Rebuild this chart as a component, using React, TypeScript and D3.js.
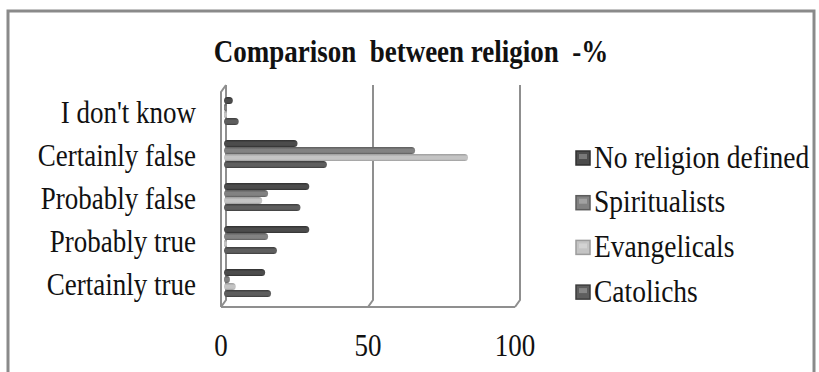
import React from "react";
import * as d3 from "d3";

const categories = ["I don't know", "Certainly false", "Probably false", "Probably true", "Certainly true"];
const seriesNames = ["No religion defined", "Spiritualists", "Evangelicals", "Catolichs"];
const noReligion = [3, 25, 29, 29, 14];
const spiritualists = [1, 65, 15, 15, 2];
const evangelicals = [1, 83, 13, 1, 4];
const catolichs = [5, 35, 26, 18, 16];
const xTicks = [0, 50, 100];
const title = "Comparison  between religion  -%";

const seriesValues = [noReligion, spiritualists, evangelicals, catolichs];
const baseColors = ["#4c4c4c", "#828282", "#c4c4c4", "#5e5e5e"];
const edgeColors = ["#303030", "#5c5c5c", "#9c9c9c", "#3c3c3c"];

const W = 819;
const H = 372;
const FONT = "Liberation Serif, DejaVu Serif, Times New Roman, serif";
const STRETCH = 1.17;

function T({ x, y, anchor = "start", size = 27, bold = false, children }: any) {
  return (
    <g transform={`translate(${x},${y}) scale(1,${STRETCH})`}>
      <text
        x={0}
        y={0}
        textAnchor={anchor}
        fontSize={size}
        fontWeight={bold ? "bold" : "normal"}
        fill="#111"
        style={{ fontFamily: FONT, whiteSpace: "pre" }}
      >
        {children}
      </text>
    </g>
  );
}

export default function App() {
  const x = d3.scaleLinear().domain([0, 100]).range([224, 518]);
  const y = d3.scaleBand<string>().domain(categories).range([89.5, 304.5]);
  const bw = y.bandwidth();
  const inner = d3.scaleBand<string>().domain(seriesNames).range([bw / 2 - 14, bw / 2 + 14]).padding(0);
  const depthX = 5;
  const depthY = 7;
  const wallTop = 85;
  const wallBottom = 300;
  const gx = (v: number) => x(v) + 2;

  return (
    <svg width={W} height={H} style={{ position: "absolute", left: 0, top: 0, background: "#fff" }}>
      <defs>
        {seriesNames.map((s, i) => (
          <linearGradient key={s} id={`g${i}`} x1="0" y1="0" x2="0" y2="1">
            <stop offset="0%" stopColor={edgeColors[i]} />
            <stop offset="35%" stopColor={baseColors[i]} />
            <stop offset="75%" stopColor={baseColors[i]} />
            <stop offset="100%" stopColor={edgeColors[i]} />
          </linearGradient>
        ))}
      </defs>
      <rect x={8} y={11} width={806} height={420} fill="#fff" stroke="#8a8a8a" strokeWidth={3} />
      <T x={411} y={62} anchor="middle" bold size={27}>
        {title}
      </T>

      {/* walls & gridlines */}
      <g fill="none" stroke="#8f8f8f" strokeWidth={2}>
        {xTicks.map((t) => (
          <path key={t} d={`M${gx(t)},${wallTop} L${gx(t)},${wallBottom} L${gx(t) - depthX},${wallBottom + depthY}`} />
        ))}
        <path d={`M${gx(0) - depthX},${wallBottom + depthY} L${gx(0) - depthX},${wallTop + depthY} L${gx(0)},${wallTop}`} />
        <path d={`M${gx(0) - depthX},${wallBottom + depthY} L${gx(100) - depthX},${wallBottom + depthY}`} />
      </g>

      {/* bars */}
      {categories.map((c, ci) => (
        <g key={c} transform={`translate(0,${y(c)})`}>
          {seriesNames.map((s, si) => {
            const v = seriesValues[si][ci];
            const h = inner.bandwidth();
            const w = Math.max(x(v) - x(0), 2);
            return (
              <rect
                key={s}
                x={x(0)}
                y={inner(s)}
                width={w}
                height={h}
                rx={Math.min(h / 2, w / 2)}
                fill={`url(#g${si})`}
              />
            );
          })}
        </g>
      ))}

      {/* category labels */}
      {categories.map((c) => (
        <T key={c} x={196} y={(y(c) as number) + bw / 2 + 12} anchor="end" size={27}>
          {c}
        </T>
      ))}

      {/* x tick labels */}
      {xTicks.map((t) => (
        <T key={t} x={gx(t) - depthX} y={356} anchor="middle" size={27}>
          {String(t)}
        </T>
      ))}

      {/* legend */}
      {seriesNames.map((s, i) => {
        const cy = 158 + i * 44.7;
        return (
          <g key={s}>
            <rect x={576} y={cy - 7} width={14} height={14} fill={baseColors[i]} stroke={edgeColors[i]} strokeWidth={1.5} />
            <rect x={579} y={cy - 4} width={8} height={5} fill="#fff" opacity={0.25} />
            <T x={594} y={cy + 9.5} size={27.5}>
              {s}
            </T>
          </g>
        );
      })}
    </svg>
  );
}
